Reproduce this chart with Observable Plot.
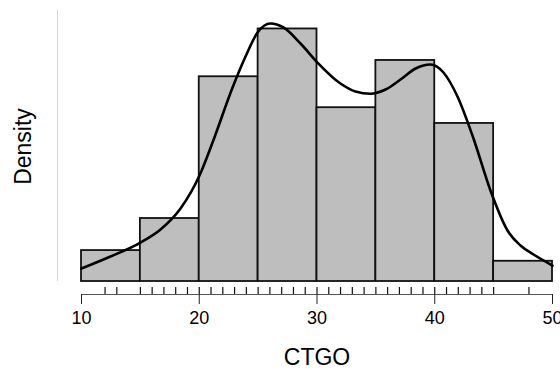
<!DOCTYPE html>
<html><head><meta charset="utf-8">
<script src="https://cdn.jsdelivr.net/npm/d3@7"></script>
<script src="https://cdn.jsdelivr.net/npm/@observablehq/plot@0.6"></script>
<style>body{margin:0;background:#fff} svg{font-family:"Liberation Sans",Arial,Helvetica,sans-serif}</style>
</head><body><div id="chart"></div>
<script>
// Histogram bins (left edges) and densities
const binStart = [10, 15, 20, 25, 30, 35, 40, 45];
const binWidth = 5;
const binDensity = [0.0055, 0.0112, 0.0364, 0.0449, 0.0309, 0.0393, 0.0281, 0.0036];

// Kernel density curve
const curveX = [10.00, 12.46, 15.01, 16.71, 18.41, 20.02, 21.13, 22.83, 23.93, 24.95, 26.05, 27.15, 28.60, 30.04, 31.99, 33.27, 34.54, 35.82, 37.09, 38.37, 39.64, 40.74, 41.93, 43.29, 44.73, 46.18, 47.28, 48.39, 50.00];
const curveY = [0.00231, 0.00444, 0.00693, 0.00924, 0.01298, 0.01884, 0.02471, 0.03449, 0.04000, 0.04427, 0.04587, 0.04516, 0.04231, 0.03893, 0.03520, 0.03378, 0.03337, 0.03413, 0.03591, 0.03787, 0.03858, 0.03716, 0.03289, 0.02542, 0.01618, 0.00907, 0.00640, 0.00480, 0.00284];

// Rug of observed values
const rugX = [12, 13, 15, 16, 17, 18, 19, 20, 21, 22, 23, 24, 25, 26, 27, 28, 29, 30, 31, 32, 33, 34, 35, 36, 37, 38, 39, 40, 41, 42, 43, 44, 45, 48];

const xTicks = [10, 20, 30, 40, 50];
const xLabel = "CTGO";
const yLabel = "Density";

const yLo = -0.00231, yHi = 0.04818, rugTop = -0.00107;

const bins = binStart.map((s, i) => ({x1: s, x2: s + binWidth, y: binDensity[i]}));
const curve = curveX.map((x, i) => ({x, y: curveY[i]}));

const chart = Plot.plot({
  width: 560, height: 369,
  marginLeft: 81, marginRight: 8, marginTop: 10, marginBottom: 75,
  x: {domain: [10, 50]},
  y: {domain: [yLo, yHi], axis: null},
  marks: [
    Plot.ruleX([xTicks[0]], {y1: 0, y2: yHi, dx: -24, stroke: "#d4d4d4", strokeWidth: 1}),
    Plot.rectY(bins, {x1: "x1", x2: "x2", y1: 0, y2: "y", fill: "#bebebe", stroke: "#111", strokeWidth: 1.8}),
    Plot.line(curve, {x: "x", y: "y", curve: "monotone-x", stroke: "#000", strokeWidth: 2.6}),
    Plot.ruleX(rugX, {x: d => d, y1: yLo, y2: rugTop, stroke: "#111", strokeWidth: 1.2}),
    Plot.ruleY([yLo], {x1: xTicks[0], x2: xTicks[xTicks.length - 1], stroke: "#555", strokeWidth: 1}),
    Plot.axisX({ticks: xTicks, tickSize: 10, tickPadding: 7, fontSize: 18, label: null, stroke: "#222"}),
    Plot.text([xLabel], {frameAnchor: "bottom", dy: 63, fontSize: 23, lineAnchor: "middle", fill: "#000"}),
    Plot.text([yLabel], {frameAnchor: "left", rotate: -90, dx: -58, dy: -6, fontSize: 23, textAnchor: "middle", lineAnchor: "middle", fill: "#000"})
  ]
});
document.getElementById("chart").appendChild(chart);
</script>
</body></html>
